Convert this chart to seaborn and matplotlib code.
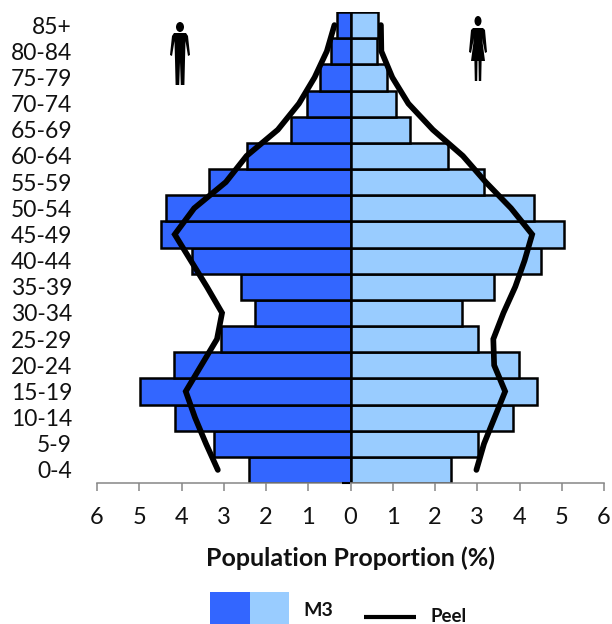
import matplotlib
matplotlib.use("Agg")
import matplotlib.pyplot as plt
from matplotlib.patches import Rectangle, Ellipse, Polygon
import numpy as np
import seaborn as sns

age_groups = ["0-4", "5-9", "10-14", "15-19", "20-24", "25-29", "30-34", "35-39", "40-44",
              "45-49", "50-54", "55-59", "60-64", "65-69", "70-74", "75-79", "80-84", "85+"]
m3_male = [2.41, 3.22, 4.16, 4.98, 4.18, 3.07, 2.27, 2.60, 3.76,
           4.49, 4.36, 3.36, 2.44, 1.42, 1.02, 0.72, 0.47, 0.32]
m3_female = [2.38, 3.01, 3.84, 4.42, 3.98, 3.02, 2.64, 3.40, 4.51,
             5.06, 4.34, 3.17, 2.30, 1.42, 1.07, 0.86, 0.63, 0.65]
peel_male = [3.14, 3.42, 3.68, 3.90, 3.53, 3.16, 3.04, 3.40, 3.78,
             4.16, 3.70, 2.95, 2.46, 1.72, 1.22, 0.85, 0.56, 0.38]
peel_female = [2.98, 3.16, 3.41, 3.66, 3.40, 3.38, 3.62, 3.90, 4.12,
               4.30, 3.80, 3.20, 2.66, 1.95, 1.37, 0.99, 0.73, 0.72]
x_ticks = [-6, -5, -4, -3, -2, -1, 0, 1, 2, 3, 4, 5, 6]

W, H = 612, 624
sns.set_theme(style="white")
plt.rcParams["font.family"] = ["Lato", "DejaVu Sans"]
fig = plt.figure(figsize=(W / 100, H / 100), dpi=100)
ax = fig.add_axes([97 / W, 1 - 483 / H, (604 - 97) / W, (483 - 12) / H])

pos = np.arange(len(age_groups))
bar_kw = dict(orient="h", native_scale=True, width=1, saturation=1,
              edgecolor="black", linewidth=1.8, ax=ax)
sns.barplot(x=-np.array(m3_male), y=pos, color="#3366FF", **bar_kw)
sns.barplot(x=np.array(m3_female), y=pos, color="#99CCFF", **bar_kw)
line_kw = dict(orient="y", sort=False, estimator=None, color="black", linewidth=4.1,
               solid_capstyle="round", solid_joinstyle="miter", ax=ax)
sns.lineplot(x=-np.array(peel_male), y=pos, **line_kw)
sns.lineplot(x=np.array(peel_female), y=pos, **line_kw)

ax.set_xlim(-6, 6)
ax.set_ylim(-0.5, 17.5)
ax.set_xticks(x_ticks)
ax.set_xticklabels([str(abs(t)) for t in x_ticks])
ax.set_yticks(pos)
ax.set_yticklabels(age_groups)
ax.set_xlabel("")
ax.set_ylabel("")
ax.tick_params(axis="x", length=6, width=1.1, color="#868686", labelsize=17, pad=11, labelcolor="#111111", bottom=True)
ax.tick_params(axis="y", length=0, labelsize=16.5, pad=18, labelcolor="#111111")
for s in ["top", "left", "right"]:
    ax.spines[s].set_visible(False)
ax.spines["bottom"].set_color("#868686")
ax.spines["bottom"].set_linewidth(1.1)
ax.set_facecolor("none")

ov = fig.add_axes([0, 0, 1, 1], zorder=5)
ov.set_xlim(0, W)
ov.set_ylim(H, 0)
ov.axis("off")

def man(cx):
    ov.add_patch(Ellipse((cx, 27), 8, 10, color="black", lw=0))
    pts = [(-6, 33), (6, 33), (8, 36), (10, 55), (8, 56), (5.5, 41), (5, 60), (4.4, 85), (0.8, 85),
           (0, 62), (-0.8, 85), (-4.4, 85), (-5, 60), (-5.5, 41), (-8, 56), (-10, 55), (-8, 36)]
    ov.add_patch(Polygon([(cx + a, b) for a, b in pts], color="black", lw=0))

def woman(cx):
    ov.add_patch(Ellipse((cx, 21), 7, 10, color="black", lw=0))
    pts = [(-5, 28), (5, 28), (7, 30), (9, 52), (7, 53), (4, 38), (7, 61), (3.6, 61), (3.2, 81), (0.8, 81),
           (0.5, 61), (-0.5, 61), (-0.8, 81), (-3.2, 81), (-3.6, 61), (-7, 61), (-4, 38), (-7, 53), (-9, 52), (-7, 30)]
    ov.add_patch(Polygon([(cx + a, b) for a, b in pts], color="black", lw=0))

man(180)
woman(478)

ov.plot([342, 350], [483, 483], color="black", lw=1.5, solid_capstyle="butt")
ov.text(350, 558, "Population Proportion (%)", ha="center", va="center",
        fontsize=18, fontweight="bold", color="#111111")
ov.add_patch(Rectangle((210, 592), 40, 32, color="#3366FF", lw=0))
ov.add_patch(Rectangle((250, 592), 39, 32, color="#99CCFF", lw=0))
ov.text(303, 610, "M3", ha="left", va="center", fontsize=14, fontweight="bold", color="#111111")
ov.plot([364, 416], [617, 617], color="black", lw=3, solid_capstyle="butt")
ov.text(431, 616, "Peel", ha="left", va="center", fontsize=13.5, fontweight="bold", color="#111111")

fig.savefig("out.png", dpi=100, facecolor="white")
